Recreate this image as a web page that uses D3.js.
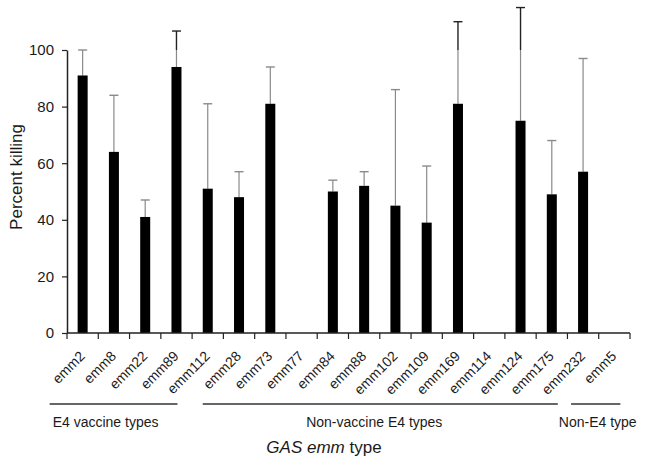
<!DOCTYPE html>
<html>
<head>
<meta charset="utf-8">
<script src="https://cdn.jsdelivr.net/npm/d3@7"></script>
<style>
  body { margin: 0; background: #fff; }
  text { font-family: Arial, "Liberation Sans", sans-serif; fill: #1a1a1a; }
</style>
</head>
<body>
<div class="chart"></div>
<script>
// values
const types = ["emm2", "emm8", "emm22", "emm89", "emm112", "emm28", "emm73", "emm77", "emm84",
  "emm88", "emm102", "emm109", "emm169", "emm114", "emm124", "emm175", "emm232", "emm5"];
const killing = [91, 64, 41, 94, 51, 48, 81, null, 50, 52, 45, 39, 81, null, 75, 49, 57, null];
const errTop = [100, 84, 47, 106.7, 81, 57, 94, null, 54, 57, 86, 59, 110, null, 115, 68, 97, null];
const yTicks = [0, 20, 40, 60, 80, 100];
const groupNames = ["E4 vaccine types", "Non-vaccine E4 types", "Non-E4 type"];
const groupFirst = ["emm2", "emm112", "emm232"];
const groupLast = ["emm89", "emm175", "emm5"];

let width = 645, height = 465;
let plotLeft = 67, plotRight = 630, plotTop = 50, plotBottom = 333;

let svg = d3.select('div.chart').append('svg')
  .attr('width', width)
  .attr('height', height);

let x = d3.scaleBand()
  .domain(types)
  .range([plotLeft, plotRight])
  .paddingInner(0.68)
  .paddingOuter(0.34);

let y = d3.scaleLinear()
  .domain([0, 100])
  .range([plotBottom, plotTop]);

let data = types.map((t, i) => ({ type: t, v: killing[i], e: errTop[i] }))
  .filter(d => d.v != null);

// error bars (part above the axis range drawn darker, like the original)
let cx = d => x(d.type) + x.bandwidth() / 2;
let eb = svg.append('g');
eb.selectAll('line.lo')
  .data(data).enter()
  .append('line')
  .attr('x1', cx).attr('x2', cx)
  .attr('y1', d => y(d.v))
  .attr('y2', d => y(Math.min(d.e, 100)))
  .attr('stroke', '#8a8a8a')
  .attr('stroke-width', 1.2);
eb.selectAll('line.hi')
  .data(data.filter(d => d.e > 100)).enter()
  .append('line')
  .attr('x1', cx).attr('x2', cx)
  .attr('y1', y(100))
  .attr('y2', d => y(d.e))
  .attr('stroke', '#222')
  .attr('stroke-width', 1.4);
eb.selectAll('line.cap')
  .data(data).enter()
  .append('line')
  .attr('x1', d => cx(d) - 4.5).attr('x2', d => cx(d) + 4.5)
  .attr('y1', d => y(d.e)).attr('y2', d => y(d.e))
  .attr('stroke', d => d.e > 100 ? '#222' : '#8a8a8a')
  .attr('stroke-width', 1.4);

svg.append('g').selectAll('rect')
  .data(data).enter()
  .append('rect')
  .attr('x', d => x(d.type))
  .attr('y', d => y(d.v))
  .attr('width', x.bandwidth())
  .attr('height', d => y(0) - y(d.v))
  .attr('fill', '#000');

// y axis
let yAxis = svg.append('g')
  .attr('transform', `translate(${plotLeft},0)`)
  .call(d3.axisLeft(y).tickValues(yTicks).tickSize(5).tickPadding(8).tickSizeOuter(0));
yAxis.select('.domain').attr('stroke', '#222').attr('stroke-width', 1.5);
yAxis.selectAll('.tick line').attr('stroke', '#222').attr('stroke-width', 1.2);
yAxis.selectAll('text').style('font-size', '15px').attr('fill', '#1a1a1a');

// x axis: ticks on category boundaries
let step = x.step();
let bounds = d3.range(types.length + 1).map(i => plotLeft + i * step);
let xg = svg.append('g');
xg.append('line')
  .attr('x1', plotLeft).attr('x2', plotRight)
  .attr('y1', plotBottom).attr('y2', plotBottom)
  .attr('stroke', '#222').attr('stroke-width', 1.6);
xg.selectAll('line.tick')
  .data(bounds).enter()
  .append('line')
  .attr('x1', d => d).attr('x2', d => d)
  .attr('y1', plotBottom).attr('y2', plotBottom + 6)
  .attr('stroke', '#222').attr('stroke-width', 1.2);
xg.selectAll('text')
  .data(types).enter()
  .append('text')
  .attr('transform', d => `translate(${x(d) + x.bandwidth() / 2 + 3},${plotBottom + 24}) rotate(-45)`)
  .attr('text-anchor', 'end')
  .style('font-size', '14px')
  .text(d => d);

// group brackets
let lineNudge = [[-33, 1], [-5, 6], [-12, 6]];
let labelNudge = [-8, -6, 2];
groupNames.forEach((name, i) => {
  let x1 = x(groupFirst[i]) + x.bandwidth() / 2 + lineNudge[i][0];
  let x2 = x(groupLast[i]) + x.bandwidth() / 2 + lineNudge[i][1];
  svg.append('line')
    .attr('x1', x1).attr('x2', x2)
    .attr('y1', 404).attr('y2', 404)
    .attr('stroke', '#333').attr('stroke-width', 1.3);
  svg.append('text')
    .attr('x', (x1 + x2) / 2 + labelNudge[i])
    .attr('y', 427)
    .attr('text-anchor', 'middle')
    .style('font-size', '14px')
    .text(name);
});

// axis titles
let xt = svg.append('text')
  .attr('x', 324).attr('y', 453)
  .attr('text-anchor', 'middle')
  .style('font-size', '17px');
xt.append('tspan').style('font-style', 'italic').text('GAS emm');
xt.append('tspan').text(' type');

svg.append('text')
  .attr('transform', 'translate(22,177) rotate(-90)')
  .attr('text-anchor', 'middle')
  .style('font-size', '17px')
  .text('Percent killing');
</script>
</body>
</html>
